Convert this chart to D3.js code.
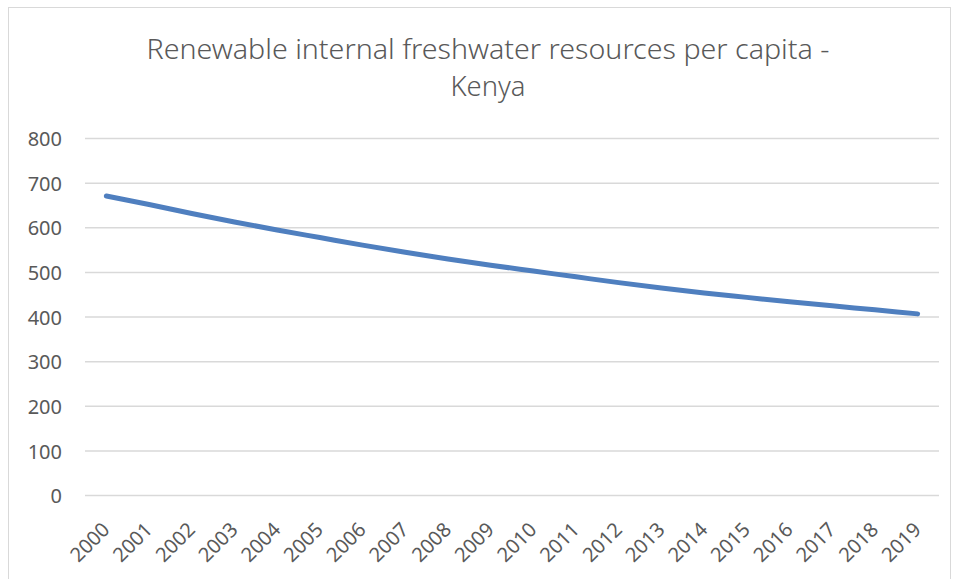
<!DOCTYPE html>
<html>
<head>
<meta charset="utf-8">
<script src="https://cdn.jsdelivr.net/npm/d3@7"></script>
<style>
  html, body { margin: 0; padding: 0; background: #fff; }
  svg { display: block; }
</style>
</head>
<body>
<svg id="chart" width="956" height="579"></svg>
<script>
// Renewable internal freshwater resources per capita (cubic metres), Kenya
const years = ["2000","2001","2002","2003","2004","2005","2006","2007","2008","2009",
               "2010","2011","2012","2013","2014","2015","2016","2017","2018","2019"];
const values = [671, 652, 632, 613, 595, 578, 561, 545, 530, 516,
                503, 490, 477, 465, 454, 444, 434, 425, 416, 407];
const yTicks = [0, 100, 200, 300, 400, 500, 600, 700, 800];
const titleLines = ["Renewable internal freshwater resources per capita -", "Kenya"];

const svg = d3.select("#chart");
const plot = { left: 85, right: 939, top: 138.5, bottom: 495.5 };
const textColor = "#595959";
const gridColor = "#d9d9d9";
const font = "'Noto Sans', 'Open Sans', 'Liberation Sans', sans-serif";

// chart frame
svg.append("rect")
  .attr("x", 8.5).attr("y", 7.5)
  .attr("width", 942).attr("height", 590)
  .attr("fill", "#fff").attr("stroke", gridColor).attr("stroke-width", 1);

// title
const title = svg.append("g").attr("font-family", font).attr("fill", textColor)
  .attr("font-weight", 300).attr("font-size", 28).attr("text-anchor", "middle");
title.append("text").attr("x", 488).attr("y", 58.5)
  .attr("textLength", 683).attr("lengthAdjust", "spacingAndGlyphs")
  .text(titleLines[0]);
title.append("text").attr("x", 488).attr("y", 96)
  .attr("textLength", 75).attr("lengthAdjust", "spacingAndGlyphs")
  .text(titleLines[1]);

const x = d3.scaleBand().domain(years).range([plot.left, plot.right]);
const y = d3.scaleLinear().domain([0, 800]).range([plot.bottom, plot.top]);

// horizontal gridlines
svg.append("g").selectAll("line").data(yTicks).join("line")
  .attr("x1", plot.left).attr("x2", plot.right)
  .attr("y1", d => y(d)).attr("y2", d => y(d))
  .attr("stroke", gridColor).attr("stroke-width", 1.5);

// y axis labels
const yAxis = d3.axisLeft(y).tickValues(yTicks).tickSize(0).tickPadding(0);
const yg = svg.append("g").attr("transform", `translate(62,0)`).call(yAxis);
yg.select(".domain").remove();
yg.selectAll("text").attr("font-family", font).attr("font-size", 20)
  .attr("fill", textColor).attr("dy", "0.36em");

// x axis labels, rotated
const xAxis = d3.axisBottom(x).tickSize(0).tickPadding(0);
const xg = svg.append("g").attr("transform", `translate(0,${plot.bottom})`).call(xAxis);
xg.select(".domain").remove();
xg.selectAll("text")
  .attr("font-family", font).attr("font-size", 20).attr("fill", textColor)
  .attr("text-anchor", "end").attr("dy", null).attr("y", 0)
  .attr("transform", "translate(4.6,35.5) rotate(-45)");

// series line
const line = d3.line()
  .x((d, i) => x(years[i]) + x.bandwidth() / 2)
  .y(d => y(d))
  .curve(d3.curveMonotoneX);
svg.append("path").datum(values)
  .attr("d", line)
  .attr("fill", "none").attr("stroke", "#4f7fbf")
  .attr("stroke-width", 5).attr("stroke-linecap", "round").attr("stroke-linejoin", "round");
</script>
</body>
</html>
